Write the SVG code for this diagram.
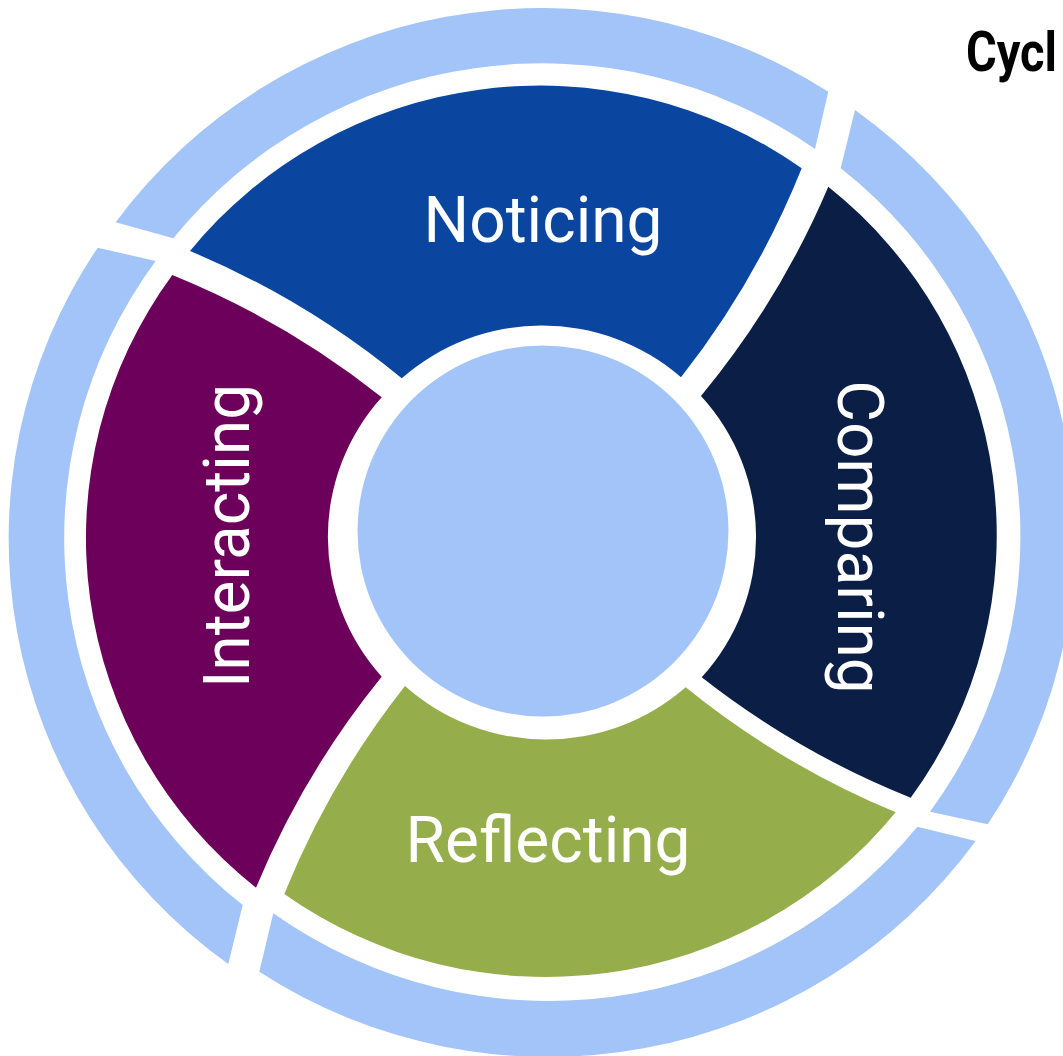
<svg xmlns="http://www.w3.org/2000/svg" width="1063" height="1056" viewBox="0 0 1063 1056">
  <style>
    .ring { fill: #A3C4F8; }
    .lbl { font-family: Roboto, "Liberation Sans", sans-serif; font-size: 64px; fill: #FFFFFF; text-anchor: middle; }
    .title { font-family: Roboto, "Liberation Sans", sans-serif; font-weight: bold; font-size: 55px; fill: #000000; }
  </style>
  <rect width="1063" height="1056" fill="#FFFFFF"/>

  <g id="outer-ring">
    <path class="ring" d="M 173.3 238.3 L 115.7 222.3 A 528.5 524 0 0 1 828.3 91.7 L 815 149 A 473.5 469 0 0 0 173.3 238.3 Z"/>
    <path class="ring" d="M 840.7 168.3 L 855 110 A 528.5 524 0 0 1 987.7 824.3 L 930 811.7 A 473.5 469 0 0 0 840.7 168.3 Z"/>
    <path class="ring" d="M 917.3 826.7 L 975.7 841 A 528.5 524 0 0 1 259.3 971.7 L 273.3 913.3 A 473.5 469 0 0 0 917.3 826.7 Z"/>
    <path class="ring" d="M 242.7 905 L 228.3 964 A 528.5 524 0 0 1 97.7 247.7 L 155.7 261 A 473.5 469 0 0 0 242.7 905 Z"/>
  </g>

  <g id="noticing">
    <path fill="#0A46A0" d="M 401.7 378.3 A 850 850 0 0 0 190 251 A 451 447 0 0 1 801.7 168.3 A 850 850 0 0 1 681 377.3 A 211.3 209.5 0 0 0 401.7 378.3 Z"/>
    <text class="lbl" x="543" y="242">Noticing</text>
  </g>

  <g id="comparing">
    <path fill="#0A1E46" d="M 701 396 A 850 850 0 0 0 828.3 186.7 A 451 447 0 0 1 910.7 797.7 A 850 850 0 0 1 701.7 677.3 A 211.3 209.5 0 0 0 701 396 Z"/>
    <text class="lbl" transform="translate(838 537) rotate(90)" x="0" y="0">Comparing</text>
  </g>

  <g id="reflecting">
    <path fill="#95AD4A" d="M 685.7 687.3 A 850 850 0 0 0 895.7 812.3 A 451 447 0 0 1 284.3 894 A 850 850 0 0 1 405 686 A 211.3 209.5 0 0 0 685.7 687.3 Z"/>
    <text class="lbl" x="548" y="862">Reflecting</text>
  </g>

  <g id="interacting">
    <path fill="#6C005A" d="M 381.7 676.7 A 850 850 0 0 0 256 887.7 A 451 447 0 0 1 172.3 275 A 850 850 0 0 1 381.7 397.3 A 211.3 209.5 0 0 0 381.7 676.7 Z"/>
    <text class="lbl" transform="translate(249 536) rotate(-90)" x="0" y="0">Interacting</text>
  </g>

  <g id="center">
    <circle cx="543" cy="531" r="185.5" fill="#A3C4F8"/>
  </g>

  <g id="connectors"></g>

  <g id="title">
    <text class="title" x="966" y="71" textLength="91" lengthAdjust="spacingAndGlyphs">Cycl</text>
  </g>
</svg>
